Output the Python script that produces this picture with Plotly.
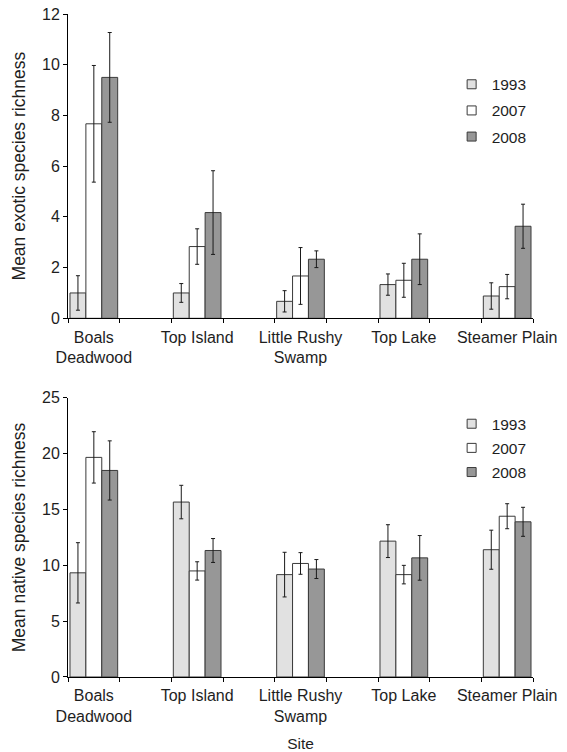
import plotly.graph_objects as go
from plotly.subplots import make_subplots

# Sites and survey years
sites = ["Boals<br>Deadwood", "Top Island", "Little Rushy<br>Swamp", "Top Lake", "Steamer Plain"]
years = ["1993", "2007", "2008"]

# Mean exotic species richness (± error) per site
exotic_1993 = [1.0, 1.0, 0.67, 1.33, 0.88]
exotic_1993_err = [0.68, 0.37, 0.42, 0.42, 0.52]
exotic_2007 = [7.67, 2.83, 1.67, 1.5, 1.25]
exotic_2007_err = [2.3, 0.7, 1.12, 0.67, 0.48]
exotic_2008 = [9.5, 4.17, 2.33, 2.33, 3.63]
exotic_2008_err = [1.77, 1.65, 0.33, 1.0, 0.87]

# Mean native species richness (± error) per site
native_1993 = [9.33, 15.67, 9.17, 12.17, 11.4]
native_1993_err = [2.7, 1.5, 2.0, 1.47, 1.75]
native_2007 = [19.67, 9.5, 10.17, 9.17, 14.4]
native_2007_err = [2.3, 0.82, 0.97, 0.83, 1.12]
native_2008 = [18.5, 11.33, 9.67, 10.67, 13.9]
native_2008_err = [2.65, 1.07, 0.85, 2.0, 1.3]

fills = ["#e1e1e1", "#ffffff", "#979797"]
edge = "#3a3a3a"
font_family = "Liberation Sans, Arial, sans-serif"
text_color = "#1e1e1e"

# sites sit on every other slot, leaving an empty slot between groups
xpos = [2 * i for i in range(len(sites))]
group_width = 0.923
bar_w = group_width / len(years)

fig = make_subplots(rows=2, cols=1)

panels = [
    (1, [exotic_1993, exotic_2007, exotic_2008],
     [exotic_1993_err, exotic_2007_err, exotic_2008_err], "legend"),
    (2, [native_1993, native_2007, native_2008],
     [native_1993_err, native_2007_err, native_2008_err], "legend2"),
]

for row, series, errs, leg in panels:
    for k, yr in enumerate(years):
        fig.add_trace(go.Bar(
            x=xpos, y=series[k], name=yr, showlegend=False,
            width=bar_w, offset=-group_width / 2 + k * bar_w,
            marker=dict(color=fills[k], line=dict(color=edge, width=1)),
            error_y=dict(type="data", array=errs[k], visible=True,
                         color="#1a1a1a", thickness=1, width=2),
        ), row=row, col=1)
    for k, yr in enumerate(years):
        fig.add_trace(go.Scatter(
            x=[None], y=[None], mode="markers", name=yr, legend=leg,
            legendgroup=f"{leg}{yr}",
            marker=dict(symbol="square", size=9, color=fills[k],
                        line=dict(color=edge, width=1)),
        ), row=row, col=1)

axis_common = dict(showline=True, linecolor="#000000", linewidth=1,
                   showgrid=False, zeroline=False, automargin=False,
                   tickfont=dict(family=font_family, size=16, color=text_color))

for row in (1, 2):
    fig.update_xaxes(
        range=[-0.5, 2 * len(sites) - 1.5],
        tickmode="array", tickvals=xpos, ticktext=sites, ticks="",
        ticklabelstandoff=4,
        minor=dict(tickmode="array",
                   tickvals=[v - 0.5 for v in range(2 * len(sites))],
                   ticks="outside", ticklen=4, tickcolor="#000000", tickwidth=1),
        row=row, col=1, **axis_common)

fig.update_yaxes(range=[0, 12], dtick=2, ticks="outside", ticklen=4,
                 tickcolor="#000000",
                 title=dict(text="Mean exotic species richness", standoff=11,
                            font=dict(family=font_family, size=17.5, color=text_color)),
                 row=1, col=1, **axis_common)
fig.update_yaxes(range=[0, 25], dtick=5, ticks="outside", ticklen=4,
                 tickcolor="#000000",
                 title=dict(text="Mean native species richness", standoff=11,
                            font=dict(family=font_family, size=17.5, color=text_color)),
                 row=2, col=1, **axis_common)
fig.update_xaxes(title=dict(text="Site", standoff=14,
                            font=dict(family=font_family, size=15.5, color=text_color)),
                 row=2, col=1)

fig.update_layout(
    width=567, height=752,
    margin=dict(l=68, r=34, t=14, b=75),
    paper_bgcolor="#ffffff", plot_bgcolor="#ffffff",
    barmode="overlay",
    font=dict(family=font_family, size=15.5, color=text_color),
    xaxis=dict(domain=[0, 1]), xaxis2=dict(domain=[0, 1]),
    yaxis=dict(domain=[0.541, 1.0]), yaxis2=dict(domain=[0.0, 0.421]),
    legend=dict(x=0.825, y=0.919, xanchor="left", yanchor="top",
                bgcolor="rgba(0,0,0,0)", tracegroupgap=3,
                font=dict(family=font_family, size=15.5, color=text_color)),
    legend2=dict(x=0.825, y=0.407, xanchor="left", yanchor="top",
                 bgcolor="rgba(0,0,0,0)", tracegroupgap=1,
                 font=dict(family=font_family, size=15.5, color=text_color)),
)

fig.write_html("out.html")
